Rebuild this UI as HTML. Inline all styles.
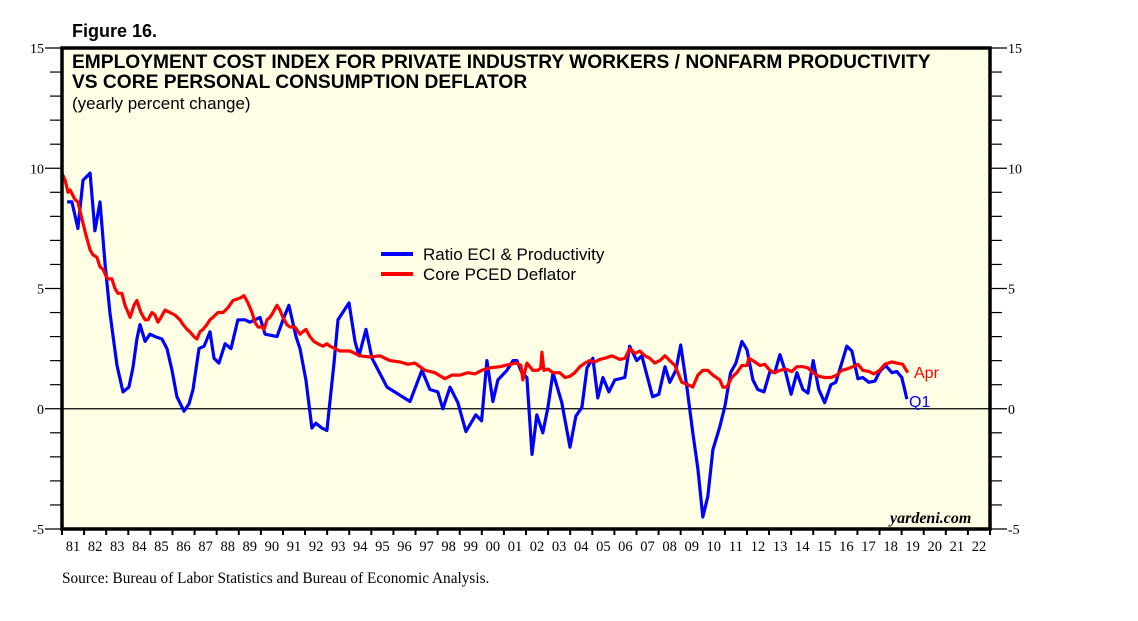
<!DOCTYPE html>
<html><head><meta charset="utf-8">
<style>
body{margin:0;background:#fff;}
svg{display:block;}
</style></head>
<body>
<svg id="chart" width="1138" height="621" xmlns="http://www.w3.org/2000/svg">
<text x="72" y="37" font-family="Liberation Sans, sans-serif" font-weight="bold" font-size="18">Figure 16.</text>
<rect x="62" y="48" width="928" height="481" fill="#ffffe6"/>
<g id="ticks"></g>
<line id="zero" x1="62" x2="990" stroke="#000" stroke-width="1.3"/>
<g id="series"></g>
<rect x="62" y="48" width="928" height="481" fill="none" stroke="#000" stroke-width="3.5"/>
<text font-family="Liberation Sans, sans-serif" font-weight="bold" font-size="19.2">
<tspan x="72" y="68">EMPLOYMENT COST INDEX FOR PRIVATE INDUSTRY WORKERS / NONFARM PRODUCTIVITY</tspan>
<tspan x="72" y="88">VS CORE PERSONAL CONSUMPTION DEFLATOR</tspan></text>
<text x="72" y="109" font-family="Liberation Sans, sans-serif" font-size="17">(yearly percent change)</text>
<g>
<line x1="381" x2="413" y1="254" y2="254" stroke="#0000ff" stroke-width="4"/>
<text x="423" y="260" font-family="Liberation Sans, sans-serif" font-size="17">Ratio ECI &amp; Productivity</text>
<line x1="381" x2="413" y1="274" y2="274" stroke="#ff0000" stroke-width="4"/>
<text x="423" y="280" font-family="Liberation Sans, sans-serif" font-size="17">Core PCED Deflator</text>
</g>
<text x="914" y="378" fill="#ff0000" font-family="Liberation Sans, sans-serif" font-size="16">Apr</text>
<text x="909" y="407" fill="#0000ff" font-family="Liberation Sans, sans-serif" font-size="16">Q1</text>
<text x="890" y="523" font-family="Liberation Serif, serif" font-style="italic" font-weight="bold" font-size="16">yardeni.com</text>
<text x="62" y="583" font-family="Liberation Serif, serif" font-size="15.3">Source: Bureau of Labor Statistics and Bureau of Economic Analysis.</text>
</svg>
<script>
const yTicks=[15,10,5,0,-5];
const xYears=["81","82","83","84","85","86","87","88","89","90","91","92","93","94","95","96","97","98","99","00","01","02","03","04","05","06","07","08","09","10","11","12","13","14","15","16","17","18","19","20","21","22"];
const eciDates=[1981.23,1981.45,1981.72,1981.95,1982.27,1982.49,1982.72,1982.95,1983.17,1983.49,1983.76,1984.03,1984.21,1984.39,1984.53,1984.76,1984.98,1985.21,1985.52,1985.75,1985.98,1986.2,1986.52,1986.75,1986.93,1987.2,1987.43,1987.7,1987.88,1988.1,1988.38,1988.65,1988.96,1989.28,1989.51,1989.96,1990.19,1990.73,1991.0,1991.27,1991.59,1991.77,1992.04,1992.31,1992.49,1992.76,1992.99,1993.31,1993.49,1993.99,1994.26,1994.44,1994.76,1995.03,1995.71,1996.75,1997.29,1997.65,1998.01,1998.24,1998.56,1998.92,1999.28,1999.73,1999.99,2000.23,2000.5,2000.73,2001.14,2001.41,2001.59,2001.81,2002.04,2002.27,2002.49,2002.76,2002.99,2003.22,2003.62,2003.99,2004.26,2004.53,2004.76,2005.03,2005.25,2005.48,2005.75,2006.02,2006.47,2006.69,2007.01,2007.24,2007.73,2008.01,2008.29,2008.51,2008.78,2009.0,2009.28,2009.55,2009.78,2010.0,2010.23,2010.46,2010.77,2011.0,2011.26,2011.5,2011.77,2012.0,2012.27,2012.49,2012.77,2013.04,2013.26,2013.49,2013.76,2014.0,2014.26,2014.53,2014.76,2015.0,2015.25,2015.52,2015.8,2016.02,2016.29,2016.52,2016.75,2017.02,2017.24,2017.52,2017.79,2018.01,2018.28,2018.56,2018.78,2019.01,2019.24];
const eciValues=[8.6,8.6,7.5,9.5,9.8,7.4,8.6,6,4,1.8,0.7,0.9,1.7,2.9,3.5,2.8,3.1,3.0,2.9,2.5,1.6,0.5,-0.1,0.2,0.8,2.5,2.6,3.2,2.1,1.9,2.7,2.5,3.7,3.7,3.6,3.8,3.1,3.0,3.7,4.3,3.0,2.5,1.2,-0.8,-0.6,-0.8,-0.9,1.9,3.7,4.4,2.8,2.2,3.3,2.1,0.9,0.3,1.6,0.8,0.7,0,0.9,0.25,-0.95,-0.25,-0.5,2.0,0.3,1.2,1.6,2.0,2.0,1.5,1.3,-1.9,-0.25,-1.0,0.05,1.5,0.25,-1.6,-0.3,0.05,1.7,2.1,0.45,1.3,0.7,1.2,1.3,2.6,2.0,2.2,0.5,0.6,1.75,1.1,1.6,2.65,0.9,-1.0,-2.5,-4.5,-3.65,-1.7,-0.75,0.1,1.5,1.9,2.8,2.45,1.2,0.8,0.7,1.55,1.5,2.25,1.5,0.6,1.5,0.8,0.65,2.0,0.8,0.25,1.0,1.1,1.9,2.6,2.4,1.25,1.3,1.1,1.15,1.55,1.8,1.5,1.55,1.3,0.4];
const pcedDates=[1981.0,1981.14,1981.27,1981.36,1981.59,1981.72,1981.9,1982.09,1982.27,1982.4,1982.58,1982.72,1982.86,1983.0,1983.08,1983.26,1983.4,1983.53,1983.71,1983.85,1983.99,1984.08,1984.26,1984.39,1984.57,1984.76,1984.89,1985.07,1985.21,1985.34,1985.48,1985.66,1985.89,1986.11,1986.34,1986.48,1986.66,1986.79,1986.97,1987.11,1987.24,1987.38,1987.56,1987.7,1987.83,1988.06,1988.29,1988.51,1988.74,1989.05,1989.24,1989.42,1989.6,1989.73,1989.87,1990.05,1990.14,1990.28,1990.41,1990.55,1990.73,1990.86,1991.0,1991.18,1991.32,1991.54,1991.77,1991.9,1992.04,1992.22,1992.4,1992.58,1992.81,1992.99,1993.13,1993.35,1993.58,1993.81,1994.03,1994.26,1994.48,1994.94,1995.39,1995.84,1996.29,1996.66,1996.97,1997.43,1997.88,1998.33,1998.65,1999.01,1999.37,1999.69,2000.0,2000.37,2000.82,2001.27,2001.59,2001.77,2001.86,2002.04,2002.31,2002.54,2002.67,2002.72,2002.81,2003.0,2003.22,2003.53,2003.76,2003.99,2004.21,2004.44,2004.67,2004.89,2005.12,2005.34,2005.57,2005.89,2006.25,2006.48,2006.7,2006.93,2007.15,2007.38,2007.6,2007.83,2008.06,2008.29,2008.51,2008.74,2009.05,2009.33,2009.55,2009.78,2010.0,2010.23,2010.46,2010.77,2010.91,2011.09,2011.31,2011.54,2011.77,2012.0,2012.09,2012.36,2012.59,2012.81,2013.04,2013.26,2013.49,2013.76,2014.03,2014.26,2014.53,2014.76,2015.0,2015.25,2015.52,2015.8,2016.07,2016.29,2016.52,2016.79,2017.02,2017.24,2017.52,2017.74,2018.01,2018.24,2018.56,2018.78,2019.05,2019.28];
const pcedValues=[9.8,9.5,9.0,9.1,8.7,8.6,7.9,7.2,6.6,6.4,6.3,5.9,5.8,5.5,5.4,5.4,5.0,4.8,4.8,4.3,4.0,3.8,4.3,4.5,4.0,3.7,3.7,4.0,3.9,3.6,3.8,4.1,4.0,3.9,3.7,3.5,3.3,3.2,3.0,2.9,3.2,3.3,3.5,3.7,3.8,4.0,4.0,4.2,4.5,4.6,4.7,4.4,4.0,3.6,3.4,3.4,3.3,3.7,3.8,4.0,4.3,4.1,3.8,3.5,3.4,3.4,3.1,3.2,3.3,3.0,2.8,2.7,2.6,2.7,2.6,2.5,2.4,2.4,2.4,2.3,2.2,2.15,2.2,2.0,1.95,1.85,1.9,1.6,1.5,1.25,1.4,1.4,1.5,1.45,1.6,1.7,1.75,1.85,1.9,1.8,1.2,1.9,1.6,1.6,1.7,2.35,1.6,1.65,1.5,1.5,1.3,1.35,1.5,1.75,1.9,2.0,1.95,2.05,2.1,2.2,2.05,2.1,2.5,2.3,2.4,2.2,2.1,1.9,2.0,2.2,2.0,1.8,1.1,1.0,0.9,1.4,1.6,1.6,1.4,1.2,0.9,0.9,1.3,1.5,1.8,1.8,2.1,1.95,1.8,1.85,1.6,1.5,1.6,1.65,1.55,1.75,1.75,1.7,1.5,1.35,1.3,1.3,1.4,1.6,1.65,1.75,1.85,1.6,1.55,1.45,1.6,1.85,1.95,1.9,1.85,1.5];

const NS="http://www.w3.org/2000/svg";
const X0=62,X1=990,Y0=48,Y1=529,YMIN=-5,YMAX=15,T0=1981,T1=2023;
function xs(t){return X0+(t-T0)/(T1-T0)*(X1-X0);}
function ys(v){return Y1-(v-YMIN)/(YMAX-YMIN)*(Y1-Y0);}
function mk(tag,attrs){const e=document.createElementNS(NS,tag);for(const k in attrs)e.setAttribute(k,attrs[k]);return e;}
const tk=document.getElementById('ticks');
for(let v=YMIN;v<=YMAX;v++){
  const major=(v%5===0);const y=ys(v);
  const l=mk('line',{x1:major?45:50,x2:X0,y1:y,y2:y,stroke:'#000','stroke-width':1.2});
  
  
  tk.appendChild(l);
  const r=mk('line',{x1:X1,x2:major?1007:1002,y1:y,y2:y,stroke:'#000','stroke-width':1.2});
  
  
  tk.appendChild(r);
}
yTicks.forEach(v=>{
  const y=ys(v)+5;
  const a=mk('text',{x:44,y:y,'text-anchor':'end','font-family':'Liberation Serif, serif','font-size':14});
  a.textContent=String(v);
  
  
  tk.appendChild(a);
  const b=mk('text',{x:1008,y:y,'font-family':'Liberation Serif, serif','font-size':14});
  b.textContent=String(v);
  
  
  tk.appendChild(b);
});
for(let i=0;i<=xYears.length;i++){
  const x=xs(T0+i);
  const l=mk('line',{x1:x,x2:x,y1:Y1,y2:Y1+6,stroke:'#000','stroke-width':2});
  
  
  tk.appendChild(l);
}
xYears.forEach((lab,i)=>{
  const t=mk('text',{x:xs(T0+i+0.5),y:551,'text-anchor':'middle','font-family':'Liberation Serif, serif','font-size':14.5});
  t.textContent=lab;
  
  
  tk.appendChild(t);
});
const z=document.getElementById('zero');z.setAttribute('y1',ys(0));z.setAttribute('y2',ys(0));
const sg=document.getElementById('series');
function line(d,v,color){
  let p='';for(let i=0;i<d.length;i++){p+=(i?'L':'M')+xs(d[i]).toFixed(1)+','+ys(v[i]).toFixed(1);}
  return mk('path',{d:p,fill:'none',stroke:color,'stroke-width':3.2,'stroke-linejoin':'round'});
}
const blue=line(eciDates,eciValues,'#0000ff');


sg.appendChild(blue);
const red=line(pcedDates,pcedValues,'#ff0000');


sg.appendChild(red);
</script>
</body></html>
